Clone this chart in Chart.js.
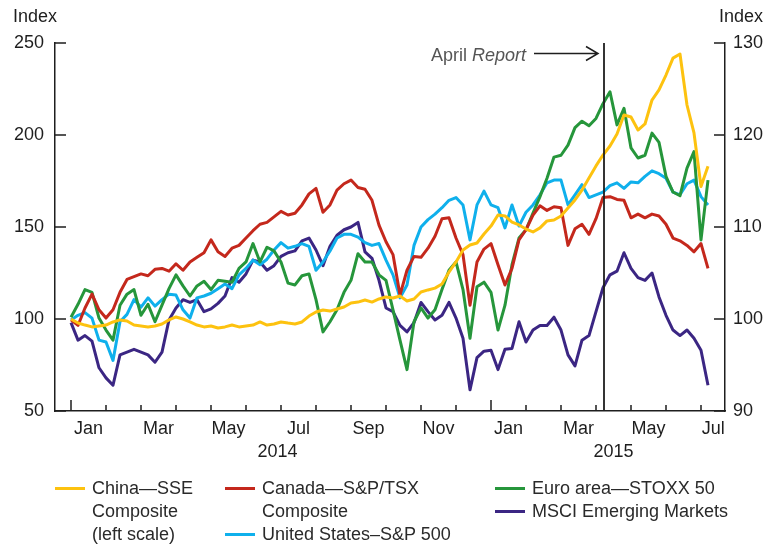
<!DOCTYPE html>
<html>
<head>
<meta charset="utf-8">
<script src="https://cdn.jsdelivr.net/npm/chart.js@4.4.0/dist/chart.umd.min.js"></script>
<style>
  body { margin: 0; background: #fff; }
  #wrap { position: relative; width: 766px; height: 546px; font-family: "Liberation Sans", Arial, sans-serif; }
  .legend-text { position: absolute; font-size: 18px; line-height: 23px; color: #2a2a2a; white-space: nowrap; }
  .swatch { position: absolute; width: 30px; height: 3px; }
</style>
</head>
<body>
<div id="wrap">
  <canvas id="chart" width="766" height="546"></canvas>
</div>
<script>
// months since 1 Jan 2014, one reading every ~6 days
const monthPos = Array.from({length: 92}, (_, i) => +(i * 0.2).toFixed(1));

const china = [100.0, 97.8, 96.7, 95.7, 96.2, 96.7, 98.4, 99.5, 98.9, 96.7,
  96.2, 95.7, 96.2, 97.3, 99.5, 101.1, 100.0, 98.4, 96.7, 95.7,
  96.2, 95.1, 95.7, 96.7, 95.7, 96.2, 96.7, 98.4, 96.7, 97.3,
  98.4, 97.8, 97.3, 98.4, 101.6, 103.8, 104.9, 104.3, 105.4, 106.5,
  108.7, 109.2, 110.3, 109.2, 110.9, 112.0, 111.4, 112.5, 109.8, 110.9,
  114.7, 115.8, 116.8, 119.0, 125.5, 131.0, 137.5, 140.2, 141.3, 146.2,
  150.5, 156.5, 156.0, 152.7, 151.1, 148.9, 147.3, 149.5, 153.3, 153.8,
  156.0, 160.3, 164.7, 170.1, 176.6, 183.2, 189.1, 194.0, 200.5, 210.9,
  209.8, 202.7, 206.0, 219.0, 224.5, 232.6, 241.8, 244.0, 216.3, 201.1,
  172.0, 183.0];

const canada = [99.9, 99.3, 101.2, 102.7, 101.0, 100.1, 101.0, 102.9, 104.3, 104.6,
  104.9, 104.7, 105.4, 105.5, 105.2, 106.0, 105.3, 106.2, 106.7, 107.2,
  108.6, 107.3, 106.8, 107.7, 108.0, 108.8, 109.6, 110.3, 110.5, 111.1,
  111.7, 111.3, 111.5, 112.4, 113.6, 114.2, 111.6, 112.4, 114.0, 114.7,
  115.1, 114.3, 114.1, 112.9, 110.2, 108.4, 107.0, 102.6, 105.3, 106.8,
  106.7, 107.7, 109.0, 110.9, 111.0, 108.8, 107.0, 101.5, 106.2, 107.6,
  108.2, 105.9, 103.7, 105.5, 108.6, 109.7, 111.3, 112.3, 111.8, 112.2,
  112.1, 108.0, 109.8, 110.3, 109.2, 110.9, 113.2, 113.3, 113.0, 112.9,
  111.0, 111.4, 111.0, 111.4, 111.2, 110.3, 108.8, 108.5, 108.0, 107.3,
  108.2, 105.5];

const euroArea = [100.2, 101.6, 103.2, 102.9, 100.1, 98.8, 97.7, 101.5, 102.7, 103.2,
  100.4, 101.6, 99.7, 101.5, 103.3, 104.8, 103.6, 102.5, 103.6, 104.1,
  103.2, 104.2, 104.1, 104.0, 105.5, 106.2, 108.2, 106.2, 107.8, 107.4,
  106.2, 103.9, 103.7, 104.7, 104.9, 102.1, 98.6, 99.7, 101.0, 102.9,
  104.2, 107.1, 106.2, 106.2, 104.8, 104.2, 101.0, 97.7, 94.5, 99.7,
  101.2, 100.1, 101.0, 103.2, 105.3, 106.2, 103.2, 97.9, 103.5, 104.0,
  102.9, 98.8, 101.5, 105.9, 108.8, 109.7, 111.5, 113.3, 115.3, 117.6,
  117.8, 118.9, 120.8, 121.5, 121.0, 121.8, 123.4, 124.7, 121.1, 122.9,
  118.6, 117.5, 117.8, 120.2, 119.2, 115.5, 113.8, 113.4, 116.4, 118.2,
  108.6, 115.1];

const unitedStates = [99.9, 100.4, 100.7, 100.1, 97.7, 97.5, 95.5, 99.7, 100.5, 102.1,
  101.3, 102.3, 101.4, 102.1, 102.7, 102.6, 101.0, 100.1, 102.3, 102.5,
  102.8, 103.3, 103.8, 103.3, 104.8, 105.5, 106.4, 105.9, 106.5, 107.5,
  108.3, 107.7, 107.9, 108.2, 107.9, 105.3, 106.2, 107.4, 108.8, 109.2,
  109.2, 108.9, 108.3, 108.0, 108.2, 106.4, 104.8, 102.3, 103.7, 108.0,
  110.0, 110.8, 111.4, 112.1, 112.9, 113.2, 112.4, 108.6, 112.4, 113.9,
  112.4, 112.1, 109.9, 112.4, 110.1, 111.6, 112.4, 113.5, 114.8, 115.1,
  115.1, 112.4, 113.5, 114.6, 113.2, 113.5, 113.8, 114.5, 114.8, 114.2,
  114.9, 114.8, 115.5, 116.1, 115.8, 115.3, 113.8, 113.5, 114.7, 115.1,
  113.3, 112.4];

const emerging = [99.6, 97.7, 98.2, 97.6, 94.7, 93.6, 92.8, 96.1, 96.4, 96.7,
  96.4, 96.1, 95.3, 96.4, 99.9, 101.2, 102.1, 101.8, 102.1, 100.8,
  101.1, 101.7, 102.5, 104.5, 104.0, 104.9, 106.4, 106.2, 105.3, 105.8,
  106.8, 107.2, 107.4, 108.5, 108.8, 107.5, 105.8, 107.9, 109.1, 109.7,
  110.0, 110.5, 107.3, 106.6, 104.2, 101.2, 100.8, 99.3, 98.6, 99.6,
  101.8, 100.8, 99.9, 100.4, 101.8, 100.1, 97.9, 92.3, 95.8, 96.5,
  96.6, 94.5, 96.7, 96.8, 99.7, 97.5, 98.8, 99.3, 99.3, 100.2,
  98.8, 96.1, 94.9, 97.7, 98.2, 100.8, 103.4, 104.8, 105.2, 107.2,
  105.5, 104.5, 104.2, 105.0, 102.4, 100.4, 98.8, 98.2, 98.8, 97.9,
  96.6, 92.8];

const monthLabels = ['Jan', 'Mar', 'May', 'Jul', 'Sep', 'Nov', 'Jan', 'Mar', 'May', 'Jul'];
const monthLabelPos = [0.5, 2.5, 4.5, 6.5, 8.5, 10.5, 12.5, 14.5, 16.5, 18.35];
const yearLabels = ['2014', '2015'];
const yearLabelPos = [5.9, 15.5];
const reportMonth = 15.23;

const ink = '#1e1e1e';
const fontFamily = '"Liberation Sans", Arial, sans-serif';
Chart.defaults.font.family = fontFamily;
Chart.defaults.font.size = 18;
Chart.defaults.color = ink;

const series = [
  {label: ['China\u2014SSE', 'Composite', '(left scale)'], data: china, color: '#fdc20f', axis: 'yL'},
  {label: ['Canada\u2014S&P/TSX', 'Composite'], data: canada, color: '#c4281c', axis: 'yR'},
  {label: ['Euro area\u2014STOXX 50'], data: euroArea, color: '#26963b', axis: 'yR'},
  {label: ['United States\u2013S&P 500'], data: unitedStates, color: '#0fb0ec', axis: 'yR'},
  {label: ['MSCI Emerging Markets'], data: emerging, color: '#3b2683', axis: 'yR'}
];

const frame = {
  id: 'frame',
  afterDraw(chart) {
    const {ctx, chartArea: a} = chart;
    const x = chart.scales.x, yL = chart.scales.yL, yR = chart.scales.yR;
    ctx.save();
    ctx.strokeStyle = ink;
    ctx.lineWidth = 1.5;
    ctx.beginPath();
    yL.ticks.forEach(t => {
      const py = Math.round(yL.getPixelForValue(t.value));
      ctx.moveTo(a.left, py); ctx.lineTo(a.left + 11, py);
    });
    yR.ticks.forEach(t => {
      const py = Math.round(yR.getPixelForValue(t.value));
      ctx.moveTo(a.right, py); ctx.lineTo(a.right - 11, py);
    });
    for (let m = 0; m <= 18; m++) {
      const px = Math.round(x.getPixelForValue(m));
      const len = m % 12 === 0 ? 11 : 6;
      ctx.moveTo(px, a.bottom); ctx.lineTo(px, a.bottom - len);
    }
    ctx.stroke();

    // April Report marker
    const rx = Math.round(x.getPixelForValue(reportMonth));
    ctx.lineWidth = 1.8;
    ctx.beginPath();
    ctx.moveTo(rx, a.top); ctx.lineTo(rx, a.bottom);
    ctx.stroke();
    const ay = a.top + 10.5;
    ctx.lineWidth = 1.5;
    ctx.beginPath();
    ctx.moveTo(rx - 70, ay); ctx.lineTo(rx - 6, ay);
    ctx.moveTo(rx - 18, ay - 7); ctx.lineTo(rx - 6, ay); ctx.lineTo(rx - 18, ay + 7);
    ctx.stroke();

    ctx.fillStyle = '#555';
    ctx.textBaseline = 'alphabetic';
    ctx.textAlign = 'left';
    ctx.font = 'italic 18px ' + fontFamily;
    const wR = ctx.measureText('Report').width;
    ctx.font = '18px ' + fontFamily;
    const wA = ctx.measureText('April ').width;
    const tx = rx - 78 - wR - wA;
    ctx.fillText('April ', tx, a.top + 18);
    ctx.font = 'italic 18px ' + fontFamily;
    ctx.fillText('Report', tx + wA, a.top + 18);

    ctx.fillStyle = ink;
    ctx.font = '18px ' + fontFamily;
    ctx.fillText('Index', 13, 22);
    ctx.textAlign = 'right';
    ctx.fillText('Index', 763, 22);
    ctx.restore();
  }
};

new Chart(document.getElementById('chart'), {
  type: 'line',
  data: {
    datasets: series.map(s => ({
      label: s.label.join(' '),
      data: s.data.map((v, i) => ({x: monthPos[i], y: v})),
      borderColor: s.color,
      borderWidth: 3,
      borderJoinStyle: 'round',
      pointRadius: 0,
      fill: false,
      tension: 0,
      xAxisID: 'x',
      yAxisID: s.axis
    }))
  },
  options: {
    responsive: false,
    devicePixelRatio: 1,
    animation: false,
    layout: {padding: {top: 43, left: 0, right: 0, bottom: 0}},
    plugins: {legend: {display: false}, tooltip: {enabled: false}},
    scales: {
      x: {
        type: 'linear', position: 'bottom', weight: 0,
        min: -0.457, max: 18.686,
        grid: {display: false, drawTicks: false},
        border: {color: ink, width: 1.5},
        afterBuildTicks: s => { s.ticks = monthLabelPos.map(v => ({value: v})); },
        ticks: {autoSkip: false, maxRotation: 0, padding: 7, callback: (v, i) => monthLabels[i]},
        afterFit: s => { s.height = 30; }
      },
      xYear: {
        type: 'linear', axis: 'x', position: 'bottom', weight: 1,
        min: -0.457, max: 18.686,
        grid: {display: false, drawTicks: false},
        border: {display: false},
        afterBuildTicks: s => { s.ticks = yearLabelPos.map(v => ({value: v})); },
        ticks: {autoSkip: false, maxRotation: 0, padding: 0, callback: (v, i) => yearLabels[i]},
        afterFit: s => { s.height = 105; }
      },
      yL: {
        type: 'linear', position: 'left', min: 50, max: 250,
        grid: {display: false, drawTicks: false},
        border: {color: ink, width: 1.5},
        ticks: {stepSize: 50, padding: 11},
        afterFit: s => { s.width = 55; }
      },
      yR: {
        type: 'linear', position: 'right', min: 90, max: 130,
        grid: {display: false, drawTicks: false},
        border: {color: ink, width: 1.5},
        ticks: {stepSize: 10, padding: 8},
        afterFit: s => { s.width = 41; }
      }
    }
  },
  plugins: [frame]
});

// legend laid out in three columns under the chart
const legendSpots = [
  {swatch: 55, text: 92, top: 477},
  {swatch: 225, text: 262, top: 477},
  {swatch: 495, text: 532, top: 477},
  {swatch: 225, text: 262, top: 523},
  {swatch: 495, text: 532, top: 500}
];
const wrap = document.getElementById('wrap');
series.forEach((s, i) => {
  const spot = legendSpots[i];
  const sw = document.createElement('div');
  sw.className = 'swatch';
  sw.style.left = spot.swatch + 'px';
  sw.style.top = (spot.top + 10) + 'px';
  sw.style.background = s.color;
  wrap.appendChild(sw);
  const tx = document.createElement('div');
  tx.className = 'legend-text';
  tx.style.left = spot.text + 'px';
  tx.style.top = spot.top + 'px';
  tx.innerHTML = s.label.map(t => t.replace('&', '&amp;')).join('<br>');
  wrap.appendChild(tx);
});
</script>
</body>
</html>
